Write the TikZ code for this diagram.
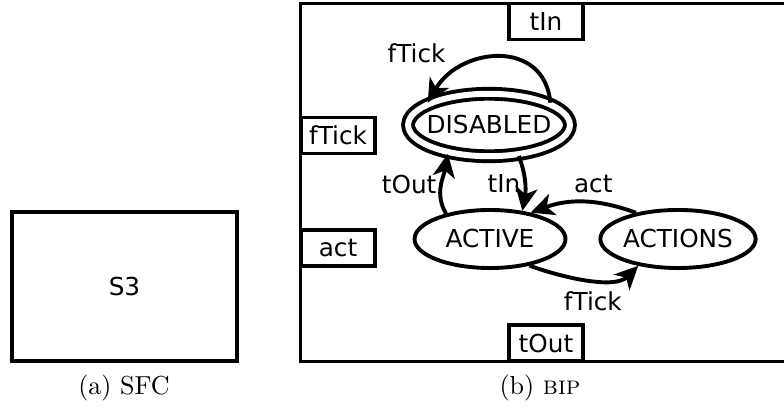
\documentclass[tikz,border=0pt]{standalone}
\usepackage{fontspec}
\newfontfamily\diagfont{DejaVu Sans}
\usetikzlibrary{shapes.geometric, arrows.meta}

\begin{document}
\begin{tikzpicture}[
    x=0.0135cm, y=0.0135cm,
    state/.style={
        ellipse,
        draw,
        line width=1.5pt,
        inner sep=0pt,
        minimum width=58pt,
        minimum height=22.3pt,
        font=\diagfont\fontsize{9.5}{11}\selectfont
    },
    initstate/.style={
        state,
        double,
        double distance=2.3pt,
        inner xsep=-2pt,
        minimum width=60.5pt,
        minimum height=24pt
    },
    port/.style={
        rectangle,
        draw,
        line width=1.5pt,
        inner sep=0pt,
        minimum width=28.6pt,
        minimum height=13.8pt,
        fill=white,
        font=\diagfont\fontsize{9.5}{11}\selectfont
    },
    block/.style={
        rectangle,
        draw,
        line width=1.5pt,
        minimum width=86.5pt,
        minimum height=57.3pt,
        font=\diagfont\fontsize{9.5}{11}\selectfont
    },
    trans/.style={
        -{Stealth[length=9pt,width=8.5pt,inset=2.5pt]},
        line width=1.5pt
    },
    lbl/.style={
        font=\diagfont\fontsize{9.5}{11}\selectfont,
        inner sep=1pt
    },
    caption/.style={font=\normalsize}
]
\useasboundingbox (0,0) rectangle (784,410);

% SFC step (left)
\node[block] (s3) at (124.5,123.5) {S3};
\node[caption] (capa) at (124,22) {(a) SFC};

% BIP component (right)
\draw[line width=1.5pt] (300.5,48.5) rectangle (820,406.5);
\node[port] (ptin) at (546,388.5) {tIn};
\node[port] (ptout) at (546,67) {tOut};
\node[port] (pftick) at (338,274.5) {fTick};
\node[port] (pact) at (338,162) {act};

\node[initstate] (disabled) at (489,285) {DISABLED};
\node[state] (active) at (490,171) {ACTIVE};
\node[state] (actions) at (678,171) {ACTIONS};

% Transitions
\draw[trans] (disabled.20) to[out=95,in=60,looseness=1.35]
    node[lbl, pos=0.78, above left=2pt] {fTick} (disabled.160);
\draw[trans] (disabled.-46) to[out=-70,in=80]
    node[lbl, pos=0.5, left] {tIn} (active.41);
\draw[trans] (active.150) to[out=120,in=-100]
    node[lbl, pos=0.5, left] {tOut} (disabled.-145);
\draw[trans] (actions.148) to[out=160,in=20]
    node[lbl, pos=0.4, above=2pt] {act} (active.33);
\draw[trans] (active.-34) to[out=-20,in=-135,looseness=0.8]
    node[lbl, pos=0.55, below=3pt] {fTick} (actions.-146);

\node[caption] (capb) at (540,22) {(b) \textsc{bip}};

\end{tikzpicture}
\end{document}
